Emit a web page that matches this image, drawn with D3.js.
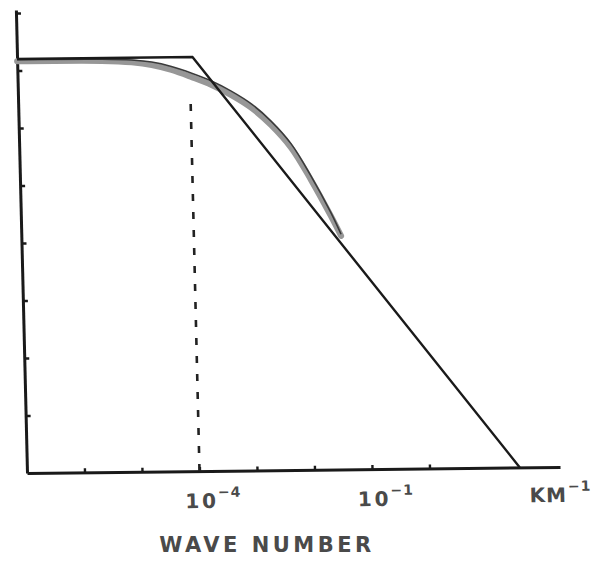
<!DOCTYPE html>
<html>
<head>
<meta charset="utf-8">
<script src="https://cdn.jsdelivr.net/npm/d3@7/dist/d3.min.js"></script>
<style>
  html, body { margin: 0; padding: 0; background: #fff; }
  svg { display: block; }
  .lbl { font-family: "DejaVu Sans", sans-serif; font-weight: bold; fill: #4a4a4a; }
</style>
</head>
<body>
<div id="chart"></div>
<script>
// exponents (log10)
const asymLogK = [-7, -3.95, 1.57];
const asymLogP = [7.2, 7.2, 0];

const bandLogK = [-7, -5.53, -5.01, -4.66, -4.32, -3.97, -3.63, -3.29, -2.94, -2.61, -2.27, -1.94, -1.61, -1.44];
const bandLogP = [7.16, 7.15, 7.12, 7.07, 6.98, 6.85, 6.71, 6.53, 6.3, 6.0, 5.6, 5.04, 4.41, 4.06];
const edgeLogP = [7.19, 7.18, 7.16, 7.12, 7.04, 6.92, 6.78, 6.6, 6.37, 6.07, 5.67, 5.11, 4.47, 4.09];

const cutoffK = 1e-4;
const cutoffTopLogP = 6.54;

const xTickExp = [-6, -5, -4, -3, -2, -1, 0];
const yTickExp = [1, 2, 3, 4, 5, 6, 7, 8];
const xLabels = [{ exp: -4, text: "−4" }, { exp: -1, text: "−1" }];
const unitLabel = "KM";
const xTitle = "WAVE NUMBER";

const W = 594, H = 561;
const axisLen = 533, axisH = 463, decade = 57.5;

const svg = d3.select("#chart").append("svg")
  .attr("width", W).attr("height", H);

// the scan is slightly skewed, so the plot sits in a skewed frame
const g = svg.append("g")
  .attr("transform", "matrix(1,-0.0113,0.024,1,27,473)");

const x = d3.scaleLog()
  .domain([1e-7, Math.pow(10, -7 + axisLen / decade)])
  .range([0, axisLen]);
const y = d3.scaleLog()
  .domain([1, Math.pow(10, axisH / decade)])
  .range([0, -axisH]);

// axes
const yAxis = g.append("g")
  .call(d3.axisRight(y).tickValues(yTickExp.map(e => Math.pow(10, e)))
    .tickSize(5).tickSizeOuter(0).tickFormat(""));
const xAxis = g.append("g")
  .call(d3.axisTop(x).tickValues(xTickExp.map(e => Math.pow(10, e)))
    .tickSize(4).tickSizeOuter(0).tickFormat(""));
[yAxis, xAxis].forEach(a => {
  a.select(".domain").attr("stroke", "#1a1a1a").attr("stroke-width", 3);
  a.selectAll(".tick line").attr("stroke", "#1a1a1a").attr("stroke-width", 2.4);
});

// dashed cutoff
g.append("line")
  .attr("x1", x(cutoffK)).attr("x2", x(cutoffK))
  .attr("y1", y(1)).attr("y2", y(Math.pow(10, cutoffTopLogP)))
  .attr("stroke", "#222").attr("stroke-width", 2.6)
  .attr("stroke-dasharray", "7,11");

const line = d3.line()
  .x(d => x(Math.pow(10, d[0])))
  .y(d => y(Math.pow(10, d[1])))
  .curve(d3.curveCatmullRom);

// measured spectrum (gray band with darker edge)
g.append("path")
  .datum(d3.zip(bandLogK, bandLogP))
  .attr("fill", "none").attr("stroke", "#979797")
  .attr("stroke-width", 6).attr("stroke-linecap", "round")
  .attr("d", line);
g.append("path")
  .datum(d3.zip(bandLogK, edgeLogP))
  .attr("fill", "none").attr("stroke", "#3a3a3a")
  .attr("stroke-width", 1.6)
  .attr("d", line);

// model asymptotes
g.append("path")
  .datum(d3.zip(asymLogK, asymLogP))
  .attr("fill", "none").attr("stroke", "#1a1a1a")
  .attr("stroke-width", 2.4)
  .attr("d", d3.line()
    .x(d => x(Math.pow(10, d[0])))
    .y(d => y(Math.pow(10, d[1]))));

// tick labels
xLabels.forEach(l => {
  const t = g.append("text").attr("class", "lbl")
    .attr("x", x(Math.pow(10, l.exp)) - 15).attr("y", 37)
    .attr("font-size", 20).attr("letter-spacing", 3);
  t.append("tspan").text("10");
  t.append("tspan").attr("font-size", 14).attr("dy", -11).attr("dx", -1)
    .attr("letter-spacing", 1).text(l.text);
});

const u = g.append("text").attr("class", "lbl")
  .attr("x", axisLen - 31).attr("y", 35)
  .attr("font-size", 20).attr("letter-spacing", 1);
u.append("tspan").text(unitLabel);
u.append("tspan").attr("font-size", 14).attr("dy", -11).attr("dx", 1).text("−1");

svg.append("text").attr("class", "lbl")
  .attr("x", 267).attr("y", 552)
  .attr("text-anchor", "middle")
  .attr("font-size", 21).attr("letter-spacing", 3.5)
  .text(xTitle);
</script>
</body>
</html>
